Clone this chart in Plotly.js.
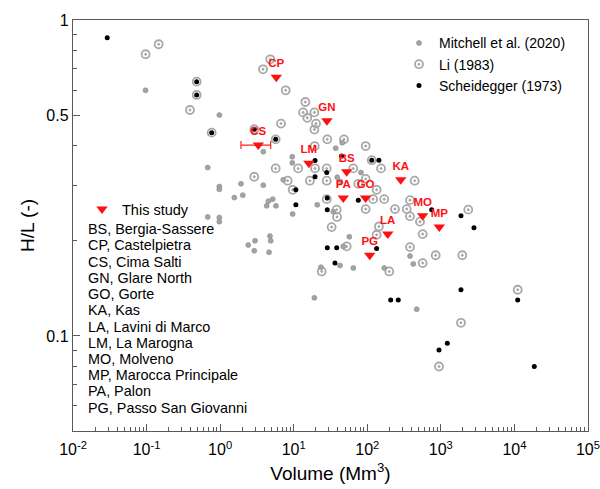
<!DOCTYPE html>
<html>
<head>
<meta charset="utf-8">
<script src="https://cdn.plot.ly/plotly-3.0.1.min.js"></script>
<style>html,body{margin:0;padding:0;background:#fff;}#chart{width:600px;height:489px;}</style>
</head>
<body>
<div id="chart"></div>
<script>
// Mitchell et al. (2020)
const mitchellVol = [0.097, 0.975, 0.678, 0.975, 0.975, 1.56, 1.92, 2.03, 0.678, 0.975, 0.975, 3.86, 3.86, 5.18, 4.52, 4.29, 5.74, 4.76, 4.87, 2.98, 2.41, 2.91, 4.62, 9.57, 9.57, 7.21, 9.68, 20.9, 37.2, 45.7, 39.1, 43.0, 82.2, 34.5, 57.0, 47.2, 42.6, 64.6, 23.5, 170, 381, 422, 19.1, 470];
const mitchellHL = [0.599, 0.500, 0.341, 0.297, 0.291, 0.274, 0.303, 0.279, 0.238, 0.237, 0.230, 0.383, 0.300, 0.271, 0.267, 0.258, 0.258, 0.207, 0.200, 0.200, 0.194, 0.186, 0.184, 0.369, 0.353, 0.312, 0.243, 0.260, 0.393, 0.409, 0.318, 0.308, 0.329, 0.247, 0.206, 0.192, 0.167, 0.164, 0.165, 0.164, 0.179, 0.169, 0.132, 0.1215];

// Li (1983)
const liVol = [0.097, 0.146, 0.48, 0.48, 0.389, 0.767, 4.8, 3.83, 7.78, 14.4, 13.4, 19.1, 15.3, 20.1, 19.1, 6.72, 28.6, 48.3, 95.2, 19.3, 2.91, 5.69, 5.69, 11.5, 19.5, 28.1, 64.6, 154, 2.91, 8.28, 16.6, 28.1, 95.2, 75.5, 441, 115, 9.68, 28.1, 134, 120, 170, 381, 38.4, 95.2, 238, 344, 38.8, 381, 521, 2360, 32.8, 144, 134, 566, 381, 52.5, 851, 1958, 566, 24.0, 199, 1879, 944, 11090];
const liHL = [0.779, 0.838, 0.638, 0.579, 0.519, 0.440, 0.751, 0.698, 0.599, 0.550, 0.510, 0.510, 0.490, 0.470, 0.450, 0.470, 0.419, 0.419, 0.399, 0.399, 0.451, 0.419, 0.339, 0.339, 0.339, 0.339, 0.339, 0.339, 0.319, 0.310, 0.310, 0.310, 0.314, 0.303, 0.310, 0.360, 0.290, 0.271, 0.290, 0.271, 0.271, 0.269, 0.251, 0.252, 0.252, 0.252, 0.238, 0.239, 0.230, 0.251, 0.221, 0.222, 0.209, 0.210, 0.191, 0.192, 0.180, 0.180, 0.170, 0.160, 0.160, 0.110, 0.080, 0.140];

// Scheidegger (1973)
const schVol = [0.0292, 0.48, 0.48, 0.767, 2.91, 5.69, 19.5, 44.9, 28.1, 19.5, 115, 144, 10.7, 28.6, 75.5, 10.7, 28.6, 28.6, 38.4, 134, 36.4, 751, 1879, 2822, 208, 264, 1879, 11090, 1225, 944, 18630];
const schHL = [0.879, 0.638, 0.579, 0.440, 0.451, 0.419, 0.359, 0.371, 0.329, 0.319, 0.360, 0.360, 0.290, 0.273, 0.269, 0.260, 0.251, 0.190, 0.190, 0.189, 0.170, 0.251, 0.240, 0.220, 0.130, 0.130, 0.140, 0.130, 0.0948, 0.0903, 0.080];

// This study
const studyCode = ['BS', 'CP', 'CS', 'GN', 'GO', 'KA', 'LA', 'LM', 'MO', 'MP', 'PA', 'PG'];
const studyName = ['Bergia-Sassere', 'Castelpietra', 'Cima Salti', 'Glare North', 'Gorte', 'Kas', 'Lavini di Marco', 'La Marogna', 'Molveno', 'Marocca Principale', 'Palon', 'Passo San Giovanni'];
const studyVol = [52.5, 5.8, 3.3, 28.3, 95, 285, 190, 16.1, 566, 953, 47.2, 108];
const studyHL = [0.331, 0.659, 0.402, 0.480, 0.273, 0.312, 0.210, 0.352, 0.240, 0.221, 0.273, 0.180];
// Cima Salti volume range (error bar)
const csVolMin = 1.92;
const csVolMax = 4.87;

// axis ticks
const xTickVals = [0.01, 0.1, 1, 10, 100, 1000, 10000, 100000];
const xTickText = ['10<sup>-2</sup>', '10<sup>-1</sup>', '10<sup>0</sup>', '10<sup>1</sup>', '10<sup>2</sup>', '10<sup>3</sup>', '10<sup>4</sup>', '10<sup>5</sup>'];
const yTickVals = [0.1, 0.5, 1];
const yTickText = ['0.1', '0.5', '1'];

// minor tick positions (digits 2..9 of each decade)
function minorTicks(lo, hi) {
  const out = [];
  for (let e = lo; e < hi; e++) {
    for (let d = 2; d <= 9; d++) out.push(d * Math.pow(10, e));
  }
  return out;
}
const xMinor = minorTicks(-2, 5);
const yMinor = minorTicks(-2, 0).filter(v => v >= 0.05 && v < 1 && Math.abs(v - 0.5) > 1e-9);

const FONT = 'Arial, "Liberation Sans", sans-serif';
const AX = '#5a5a5a';

const csIdx = studyCode.indexOf('CS');

const traces = [
  {
    type: 'scatter', mode: 'markers', name: 'Li (1983)', x: liVol, y: liHL,
    marker: {symbol: 'circle-open-dot', size: 8, color: '#a8a8a8', line: {width: 1.8, color: '#a8a8a8'}},
    legendrank: 2
  },
  {
    type: 'scatter', mode: 'markers', name: 'Mitchell et al. (2020)', x: mitchellVol, y: mitchellHL,
    marker: {symbol: 'circle', size: 5, color: '#a4a4a4', line: {width: 0.6, color: '#8c8c8c'}},
    legendrank: 1
  },
  {
    type: 'scatter', mode: 'markers', name: 'Scheidegger (1973)', x: schVol, y: schHL,
    marker: {symbol: 'circle', size: 5, color: '#000000'},
    legendrank: 3
  },
  {
    type: 'scatter', mode: 'markers', showlegend: false,
    x: [studyVol[csIdx]], y: [studyHL[csIdx]],
    marker: {size: 1, color: 'rgba(0,0,0,0)'},
    error_x: {type: 'data', symmetric: false,
      array: [csVolMax - studyVol[csIdx]], arrayminus: [studyVol[csIdx] - csVolMin],
      color: '#ff2020', thickness: 1.2, width: 4}
  },
  {
    type: 'scatter', mode: 'markers+text', name: 'This study', legend: 'legend2',
    x: studyVol, y: studyHL, text: studyCode, textposition: 'top center',
    textfont: {family: FONT, size: 11.5, color: '#ff1010', weight: 'bold'},
    marker: {symbol: 'triangle-down', size: 10, color: '#ff1010', line: {width: 0}}
  }
];

const plotTop = 20, plotBottom = 431;
const annotations = studyCode.map((c, i) => {
  const py = 229.3 + i * 16.2;
  return {
    xref: 'paper', yref: 'paper', x: 0.051, xshift: -12, y: (plotBottom - py) / (plotBottom - plotTop),
    xanchor: 'left', yanchor: 'middle', align: 'left', showarrow: false, borderpad: 0,
    text: c + ', ' + studyName[i],
    font: {family: FONT, size: 14.4, color: '#000'}
  };
});

const layout = {
  width: 600, height: 489,
  margin: {l: 73, r: 12, t: 20, b: 58, pad: 0},
  paper_bgcolor: '#fff', plot_bgcolor: '#fff',
  font: {family: FONT, color: '#000'},
  showlegend: true,
  xaxis: {
    type: 'log', range: [-2, 5.0005], automargin: false,
    tickmode: 'array', tickvals: xTickVals, ticktext: xTickText,
    ticks: 'inside', ticklen: 7, tickwidth: 1, tickcolor: AX, ticklabelstandoff: 4,
    minor: {tickmode: 'array', tickvals: xMinor, ticks: 'inside', ticklen: 4, tickwidth: 1, tickcolor: AX, showgrid: false},
    showline: true, linecolor: AX, linewidth: 1.2, mirror: true,
    showgrid: false, zeroline: false,
    tickfont: {family: FONT, size: 16, color: '#000'},
    title: {text: 'Volume (Mm<sup>3</sup>)', font: {family: FONT, size: 19, color: '#000'}, standoff: 9}
  },
  yaxis: {
    type: 'log', range: [Math.log10(0.05), 0], automargin: false,
    tickmode: 'array', tickvals: yTickVals, ticktext: yTickText,
    ticks: 'inside', ticklen: 7, tickwidth: 1, tickcolor: AX,
    minor: {tickmode: 'array', tickvals: yMinor, ticks: 'inside', ticklen: 4, tickwidth: 1, tickcolor: AX, showgrid: false},
    showline: true, linecolor: AX, linewidth: 1.2, mirror: true,
    showgrid: false, zeroline: false,
    tickfont: {family: FONT, size: 16, color: '#000'},
    title: {text: 'H/L (-)', font: {family: FONT, size: 19, color: '#000'}, standoff: 6}
  },
  legend: {
    x: 0.633, y: 0.982, xanchor: 'left', yanchor: 'top',
    bgcolor: 'rgba(0,0,0,0)', borderwidth: 0,
    font: {family: FONT, size: 14, color: '#000'},
    traceorder: 'normal'
  },
  legend2: {
    x: 0.0175, y: 0.579, xanchor: 'left', yanchor: 'top',
    bgcolor: 'rgba(0,0,0,0)', borderwidth: 0,
    font: {family: FONT, size: 14.5, color: '#000'}
  },
  annotations: annotations
};

Plotly.newPlot('chart', traces, layout, {displayModeBar: false, staticPlot: true});
</script>
</body>
</html>
